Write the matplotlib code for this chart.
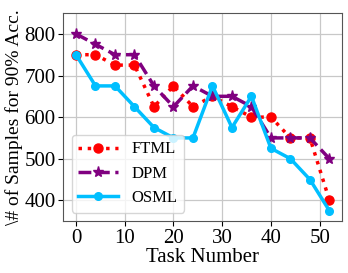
import matplotlib
matplotlib.use("Agg")
import matplotlib.pyplot as plt

plt.rcParams['font.family'] = ['Liberation Serif', 'DejaVu Serif']

tasks = [0, 4, 8, 12, 16, 20, 24, 28, 32, 36, 40, 44, 48, 52]
ftml = [750, 750, 725, 725, 625, 675, 625, 650, 625, 600, 600, 550, 550, 400]
dpm = [800, 775, 750, 750, 675, 625, 675, 650, 650, 625, 550, 550, 550, 500]
osml = [750, 675, 675, 625, 575, 550, 550, 675, 575, 650, 525, 500, 450, 375]

fig = plt.figure(figsize=(3.48, 2.73), dpi=100)
ax = fig.add_axes([0.182, 0.19, 0.801, 0.762])

ax.plot(tasks, ftml, color='red', linestyle=':', linewidth=2.5, marker='o', markersize=6.5, label='FTML')
ax.plot(tasks, dpm, color='purple', linestyle='--', linewidth=2.5, marker='*', markersize=8, label='DPM')
ax.plot(tasks, osml, color='deepskyblue', linestyle='-', linewidth=2.5, marker='o', markersize=5.5, label='OSML')

ax.set_ylim(350, 850)
ax.set_yticks([400, 500, 600, 700, 800])
ax.set_xticks([0, 10, 20, 30, 40, 50])
ax.grid(True, color='#c8c8c8', linewidth=0.9)
ax.tick_params(labelsize=15, pad=2)
for s in ax.spines.values():
    s.set_color('#555555')

ax.set_xlabel('Task Number', fontsize=15, labelpad=0)
ax.set_ylabel('\\# of Samples for 90% Acc.', fontsize=14, labelpad=1)
ax.legend(loc='lower left', fontsize=12, handlelength=2.4)

fig.savefig('out.png', dpi=100)
